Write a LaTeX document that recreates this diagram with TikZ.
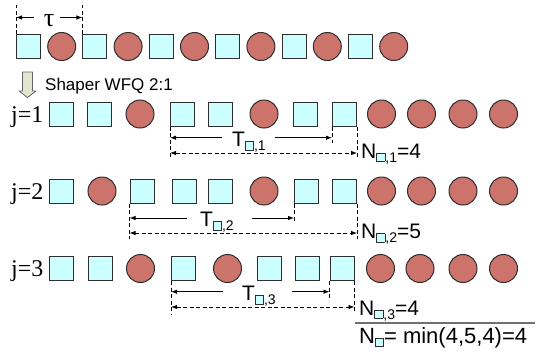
\documentclass[tikz,border=0pt]{standalone}
\usepackage{fontspec}
\setmainfont{Liberation Sans}
\newfontfamily\seriffont{Liberation Serif}
\usetikzlibrary{arrows.meta}
\definecolor{sqfill}{HTML}{CCFFFF}
\definecolor{cifill}{HTML}{CC736B}
\definecolor{edge}{HTML}{2E2E2E}
\definecolor{shaperfill}{HTML}{E2E5CF}
\definecolor{sumline}{HTML}{707070}
\newcommand{\sqbox}{\raisebox{-3pt}{\setlength{\fboxsep}{0pt}\setlength{\fboxrule}{0.8pt}\fcolorbox{edge}{sqfill}{\rule{0pt}{7.6pt}\rule{7.4pt}{0pt}}}}
\newcommand{\subtxt}[1]{\raisebox{-4pt}{\fontsize{14}{14}\selectfont #1}}
\begin{document}
\begin{tikzpicture}[x=1pt,y=-1pt,
  sq/.style={draw=edge,fill=sqfill,minimum size=24pt,inner sep=0pt,line width=1pt},
  ci/.style={circle,draw=edge,fill=cifill,minimum size=28pt,inner sep=0pt,line width=1pt},
  dim/.style={-{Latex[length=6pt,width=4.5pt]},line width=0.8pt},
  ddim/.style={{Latex[length=6pt,width=4.5pt]}-{Latex[length=6pt,width=4.5pt]},line width=0.8pt,dash pattern=on 4pt off 2.5pt},
  vdash/.style={line width=0.8pt,dash pattern=on 4pt off 2.5pt},
  lbl/.style={inner sep=0pt,anchor=base west,font=\fontsize{21}{24}\selectfont},
  rowlbl/.style={inner sep=0pt,anchor=base west,font=\seriffont\fontsize{24}{26}\selectfont}]
\useasboundingbox (0,0) rectangle (540,354);

% top row
\foreach \i in {0,...,5}{
  \node[sq] (ts\i) at ({28.5+66.4*\i},46.5) {};
  \node[ci] (tc\i) at ({61.7+66.4*\i},46.5) {};
}
% tau marker
\draw[vdash] (ts0.north west) -- ++(0,-29);
\draw[vdash] (ts1.north west) -- ++(0,-29);
\node[inner sep=0pt,anchor=base,font=\seriffont\fontsize{26}{28}\selectfont] (tau) at (49,26.5) {τ};
\coordinate (taul) at (33.5,17.5);
\coordinate (taur) at (60,17.5);
\draw[dim] (taul) -- (ts0.north west |- taul);
\draw[dim] (taur) -- (ts1.north west |- taur);

% shaper arrow
\draw[draw=gray!80!black,fill=shaperfill,line width=0.8pt,line join=round]
  (22.5,72) -- (32.5,72) -- (32.5,91) -- (36,91) -- (27.5,97.5) -- (19,91) -- (22.5,91) -- cycle;
\node[inner sep=0pt,anchor=base west,font=\fontsize{17}{19}\selectfont] (shaper) at (45,90) {Shaper WFQ 2:1};

% row j=1
\node[rowlbl] (j1) at (11,122) {j=1};
\node[sq] (a1) at (61.5,114) {};
\node[sq] (a2) at (99.5,114) {};
\node[ci] (a3) at (140,114) {};
\node[sq] (a4) at (182.5,114) {};
\node[sq] (a5) at (220.5,114) {};
\node[ci] (a6) at (264,114) {};
\node[sq] (a7) at (305.5,114) {};
\node[sq] (a8) at (344.5,114) {};
\node[ci] (a9) at (381.5,114) {};
\node[ci] (a10) at (421.5,114) {};
\node[ci] (a11) at (463,114) {};
\node[ci] (a12) at (503.5,114) {};

\draw[vdash] (a4.south west) -- ++(0,32);
\draw[vdash] (a8.south east) -- ++(0,32);
\draw[vdash] (a8.south west) -- ++(0,16);
\node[lbl] (T1) at (232,146.5) {T\sqbox\subtxt{,1}};
\coordinate (T1l) at (222,137.7);
\coordinate (T1r) at (275,137.7);
\draw[dim] (T1l) -- (a4.south west |- T1l);
\draw[dim] (T1r) -- (a8.south west |- T1r);
\coordinate (D1) at (0,153);
\draw[ddim] (a4.south west |- D1) -- (a8.south east |- D1);
\node[lbl] (N1) at (361,158) {N\sqbox\subtxt{,1}=4};

% row j=2
\node[rowlbl] (j2) at (11,199) {j=2};
\node[sq] (b1) at (61.5,191) {};
\node[ci] (b2) at (102,191) {};
\node[sq] (b3) at (142,191) {};
\node[sq] (b4) at (184,191) {};
\node[sq] (b5) at (220.5,191) {};
\node[ci] (b6) at (264,191) {};
\node[sq] (b7) at (306.5,191) {};
\node[sq] (b8) at (344.5,191) {};
\node[ci] (b9) at (381.5,191) {};
\node[ci] (b10) at (421.5,191) {};
\node[ci] (b11) at (463,191) {};
\node[ci] (b12) at (503.5,191) {};

\draw[vdash] (b3.south west) -- ++(0,35);
\draw[vdash] (b8.south east) -- ++(0,35);
\draw[vdash] (b7.south west) -- ++(0,19);
\node[lbl] (T2) at (200,226.8) {T\sqbox\subtxt{,2}};
\coordinate (T2l) at (187,218);
\coordinate (T2r) at (252,218);
\draw[dim] (T2l) -- (b3.south west |- T2l);
\draw[dim] (T2r) -- (b7.south west |- T2r);
\coordinate (D2) at (0,233);
\draw[ddim] (b3.south west |- D2) -- (b8.south east |- D2);
\node[lbl] (N2) at (361,238.5) {N\sqbox\subtxt{,2}=5};

% row j=3
\node[rowlbl] (j3) at (11,276.5) {j=3};
\node[sq] (c1) at (61.5,268.5) {};
\node[sq] (c2) at (100,268.5) {};
\node[ci] (c3) at (140.5,268.5) {};
\node[sq] (c4) at (183.5,268.5) {};
\node[ci] (c5) at (227.5,268.5) {};
\node[sq] (c6) at (269,268.5) {};
\node[sq] (c7) at (307.5,268.5) {};
\node[sq] (c8) at (342,268.5) {};
\node[ci] (c9) at (380.5,268.5) {};
\node[ci] (c10) at (420,268.5) {};
\node[ci] (c11) at (463,268.5) {};
\node[ci] (c12) at (503.5,268.5) {};

\draw[vdash] (c4.south west) -- ++(0,34);
\draw[vdash] (c8.south east) -- ++(0,31);
\draw[vdash] (c8.south west) -- ++(0,17);
\node[lbl] (T3) at (242,300.5) {T\sqbox\subtxt{,3}};
\coordinate (T3l) at (223,291.7);
\coordinate (T3r) at (292,291.7);
\draw[dim] (T3l) -- (c4.south west |- T3l);
\draw[dim] (T3r) -- (c8.south west |- T3r);
\coordinate (D3) at (0,307);
\draw[ddim] (c4.south west |- D3) -- (c8.south east |- D3);
\node[lbl] (N3) at (359,315) {N\sqbox\subtxt{,3}=4};

% result
\coordinate (sl) at (355,323);
\coordinate (sr) at (535,323);
\draw[sumline,line width=1.2pt] (sl) -- (sr);
\node[lbl,font=\fontsize{22}{24}\selectfont] (Nmin) at (359,343) {N\sqbox= min(4,5,4)=4};
\end{tikzpicture}
\end{document}
